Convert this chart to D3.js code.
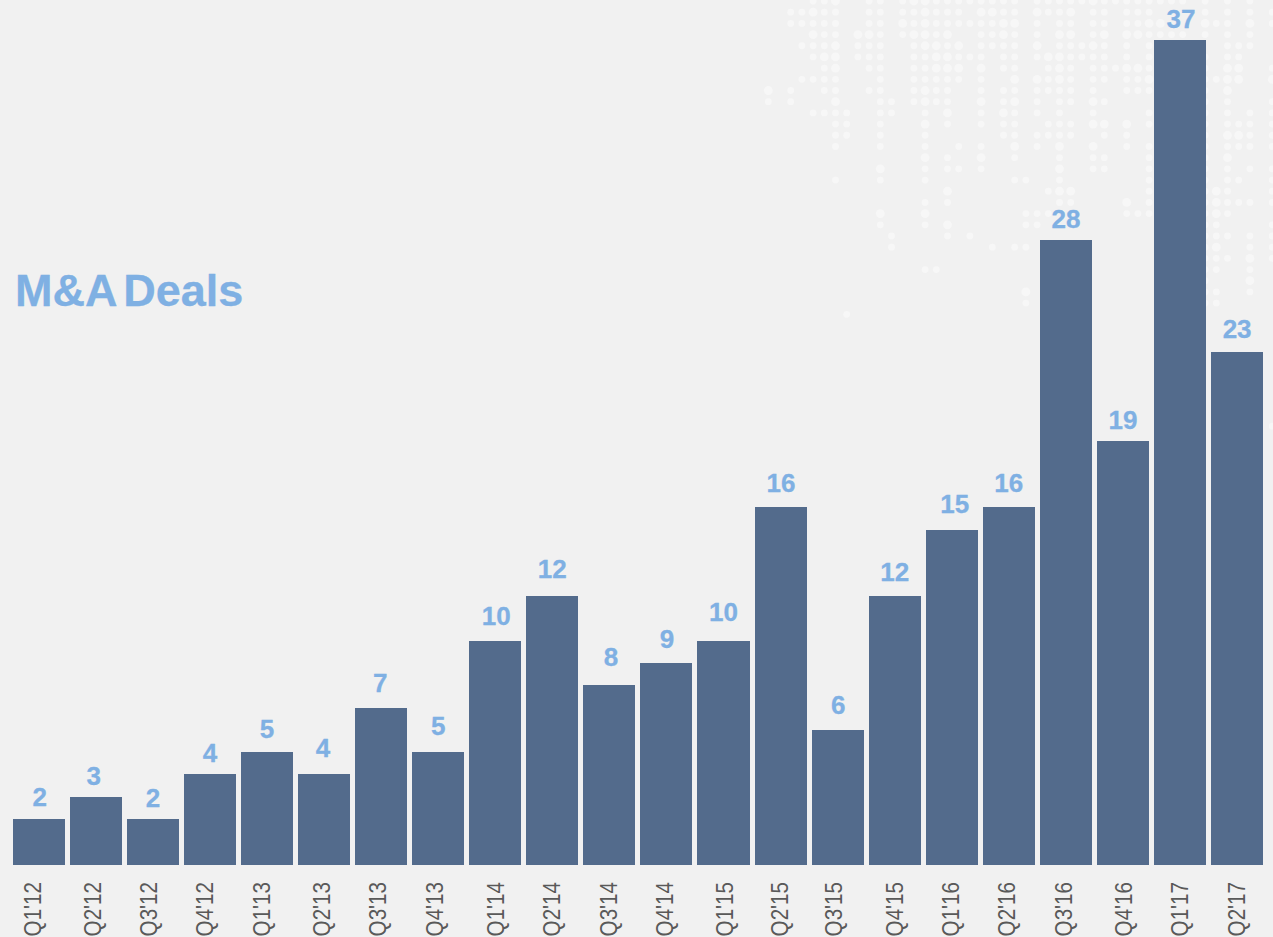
<!DOCTYPE html>
<html>
<head>
<meta charset="utf-8">
<script src="https://cdn.jsdelivr.net/npm/d3@7/dist/d3.min.js"></script>
<style>
html,body{margin:0;padding:0;background:#f1f1f1;overflow:hidden}
svg{display:block}
</style>
</head>
<body>
<svg id="chart" width="1273" height="937"></svg>
<script>
const categories = ["Q1'12","Q2'12","Q3'12","Q4'12","Q1'13","Q2'13","Q3'13","Q4'13","Q1'14","Q2'14","Q3'14","Q4'14","Q1'15","Q2'15","Q3'15","Q4'15","Q1'16","Q2'16","Q3'16","Q4'16","Q1'17","Q2'17"];
const deals = [2,3,2,4,5,4,7,5,10,12,8,9,10,16,6,12,15,16,28,19,37,23];
const chartTitle = "M&A Deals";

// hand-placed label nudges seen in the source
const labelNudgeX = [1,-2,0,0,0,-1,-1,0,1,0,1.5,0.5,0,0.5,0.5,0,3,0,0,0,1,0];
const labelLift = [22,21,21,21,23,26,25,26,25,27,28,24,29,24,25,24,26,24,21,21,21,23];
const tickNudgeX = [-6,-3,-4,-5,-5,-2,-4,-3.3,0.3,-0.7,-1.2,-1.5,1.5,-0.6,-3.6,0,-1,-1.8,-1.8,1.1,-0.9,0];

// decorative dot map: for each grid row, the occupied grid columns
const dotCols = [
[4,5,6,9,10,12,13,14,15,16,17,18,19,20,21,22,24,25,26,27,28,29,30,31,32,33,34,35,36,37,39,41,43],
[2,3,4,5,6,9,10,12,13,14,15,16,17,19,20,21,22,24,25,26,27,29,30,32,33,34,39,41,43,45],
[2,3,4,5,6,9,10,12,13,14,15,16,17,18,19,20,21,22,24,26,27,29,30,32,33,34,35,39,40,41,43,45],
[4,5,6,8,9,10,12,13,14,15,16,19,20,21,22,24,26,27,29,30,32,33,34,35,36,37,39,41,43],
[3,4,5,6,8,9,10,13,14,15,16,17,19,20,21,22,24,26,27,28,29,30,32,34,41,42,43],
[4,5,6,8,9,10,13,14,15,16,17,18,19,21,22,24,25,26,27,28,29,30,32,34,39,41,42],
[5,6,9,10,13,14,15,16,17,19,21,22,25,26,27,29,30,31,32,33,34,39,41,42,45],
[3,4,5,6,10,13,14,15,16,17,19,22,24,25,26,27,29,30,32,33,34,39,40,41,42,45],
[0,2,5,6,9,10,13,14,15,16,19,21,22,24,25,26,27,29,32,33,34,39,41],
[0,2,6,10,11,13,14,15,16,19,21,22,24,26,27,29,30,39,41,45],
[4,5,6,7,10,11,14,16,19,21,22,24,26,29,34,39,41,43,45],
[6,7,10,14,16,19,21,22,25,26,27,29,30,32,34,39,41,42,43,45],
[6,7,10,14,21,22,24,25,26,27,30,32,39,41,42,43,45],
[6,10,14,17,19,22,24,26,29,32,34,39,41,42,43,45],
[14,16,19,22,26,29,30,34,39,41],
[10,14,16,17,19,26,29,30,34,39,41,43,45],
[6,10,14,22,23,26,34,39,41,42,45],
[16,25,26,27,34,39,40,41,45],
[14,16,26,27,32,34,39,40,41,42,43,45],
[10,14,23,24,25,32,33,34,39,40,41],
[10,14,16,23,24,39,40,45],
[11,16,18,39,40,41,43,45],
[11,20,22,23,39,40,43,45],
[39,40,41,43,45],
[14,15,39,40,43],
[39,43],
[23,39,40,43],
[23,39,40],
[7],
[],[],[],[],[],[],[],[],[],
[45]
];
// grid columns drawn as the larger dot size, per row
const bigCols = [
[6,13,14,29],[4,14,19,20,24,27],[12,14,21,22,34,35,39,43],[4,8,9,13,14,16,21,26,27,30,32,33],
[6,14,15,17,24,29],[5,6,15,16,25,26],[6,15,16,17,19,26,32,33,41,42],[22,24,26,34,41,42,45],
[0,14,41],[6,14,19,22,29],[16,21],[14,29,30,32],[41,42],[22,26,29],[14,19,41],[10,26],[],
[16,26,27,40],[32,40],[10,14,40],[16],[],[40],[43],[],[43],[23],[],[],[],[],[],[],[],[],[],[],[],[]
];

const svg = d3.select("#chart");
svg.append("rect").attr("width",1273).attr("height",937).attr("fill","#f1f1f1");

// dots
const colScale = d3.scaleLinear().domain([0,45]).range([768.3,1272.3]);
const rowScale = d3.scaleLinear().domain([0,28]).range([1,314.3]);
const dots = dotCols.flatMap((cols,r)=>cols.map(c=>({r,c,big:bigCols[r].includes(c)})));
svg.append("g").selectAll("circle").data(dots).join("circle")
  .attr("cx",d=>colScale(d.c)).attr("cy",d=>rowScale(d.r))
  .attr("r",d=>d.big?4.4:3.4).attr("fill","#f7f7f7");

// scales
const x = d3.scaleBand().domain(categories).range([10.197,1265.627]).paddingInner(5/57).paddingOuter(2.5/57);
const y = d3.scaleLinear().domain([0,37]).range([863.5,40]);
const barBottom = 865;

// bars
svg.append("g").selectAll("rect").data(deals).join("rect")
  .attr("x",(d,i)=>x(categories[i])).attr("y",d=>y(d))
  .attr("width",x.bandwidth()).attr("height",d=>barBottom-y(d))
  .attr("shape-rendering","crispEdges")
  .attr("fill","#536b8c");

// value labels
svg.append("g").selectAll("text").data(deals).join("text")
  .attr("x",(d,i)=>x(categories[i])+x.bandwidth()/2+labelNudgeX[i])
  .attr("y",(d,i)=>y(d)-labelLift[i]+9)
  .attr("text-anchor","middle")
  .attr("font-family","'Liberation Sans',Arial,sans-serif")
  .attr("font-weight","bold").attr("font-size",26)
  .attr("stroke","#7fb0e3").attr("stroke-width",0.3)
  .attr("fill","#7fb0e3").text(d=>d);

// category axis
const axis = svg.append("g").attr("transform","translate(0,865)")
  .call(d3.axisBottom(x).tickSize(0));
axis.select(".domain").remove();
axis.selectAll("text")
  .attr("font-family","'Liberation Sans',Arial,sans-serif")
  .attr("font-size",24).attr("fill","#595959")
  .attr("text-anchor","end").attr("dy",null).attr("y",null).attr("x",null)
  .attr("transform",(d,i)=>`translate(${tickNudgeX[i]+8.4},17) rotate(-90) scale(0.86,1)`);

// title
svg.append("text").attr("x",15).attr("y",306)
  .attr("font-family","'Liberation Sans',Arial,sans-serif")
  .attr("font-weight","bold").attr("font-size",45).attr("word-spacing",-5)
  .attr("stroke","#7fb0e3").attr("stroke-width",0.3)
  .attr("fill","#7fb0e3").text(chartTitle);
</script>
</body>
</html>
